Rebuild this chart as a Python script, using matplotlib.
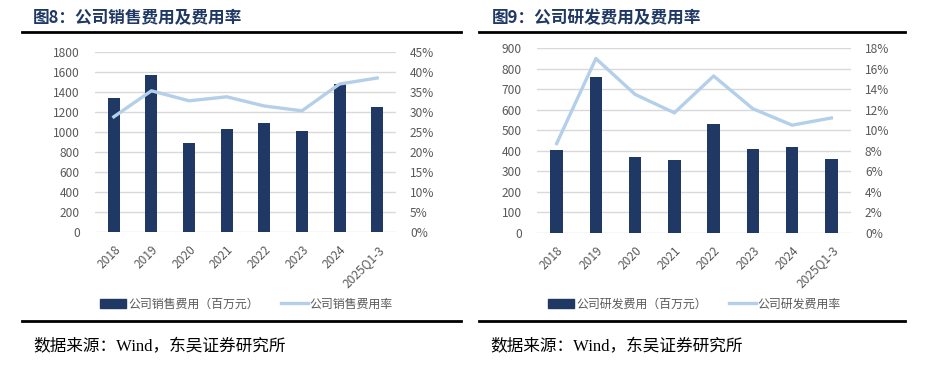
import numpy as np
import matplotlib
matplotlib.use('Agg')
import matplotlib.pyplot as plt
from matplotlib.lines import Line2D
from matplotlib.patches import Patch
import matplotlib.ticker as mticker

plt.rcParams['font.family'] = ['Noto Sans CJK SC', 'DejaVu Sans']
plt.rcParams['axes.unicode_minus'] = False

# 数据
years = ['2018', '2019', '2020', '2021', '2022', '2023', '2024', '2025Q1-3']
sales_exp = [1340, 1575, 895, 1035, 1090, 1015, 1478, 1255]
sales_rate = [28.8, 35.3, 32.8, 33.8, 31.5, 30.3, 37.0, 38.5]
rd_exp = [404, 758, 368, 353, 532, 407, 420, 360]
rd_rate = [8.7, 17.0, 13.5, 11.7, 15.3, 12.1, 10.5, 11.2]

BAR_C = '#1F3864'
LINE_C = '#B4CFEA'
TICK_C = '#595959'
GRID_C = '#D9D9D9'
TITLE_C = '#1F3864'

W, H = 936, 365
fig = plt.figure(figsize=(W / 100, H / 100), dpi=100)


def px_axes(x0, y0, x1, y1):
    return fig.add_axes([x0 / W, 1 - y1 / H, (x1 - x0) / W, (y1 - y0) / H])


def hline(x0, x1, y, lw=2.0):
    fig.add_artist(Line2D([x0 / W, x1 / W], [1 - y / H, 1 - y / H],
                          color='black', linewidth=lw, transform=fig.transFigure))


def draw_panel(box, vals, rates, ymax, ystep, rmax, rstep):
    ax = px_axes(*box)
    x = np.arange(len(years))
    ax.bar(x, vals, width=0.32, color=BAR_C, zorder=3)
    ax.set_xlim(-0.5, len(years) - 0.5)
    ax.set_ylim(0, ymax)
    ax.set_yticks(np.arange(0, ymax + 1, ystep))
    ax.grid(axis='y', color=GRID_C, linewidth=1.0, zorder=0)
    ax.set_axisbelow(True)
    for s in ax.spines.values():
        s.set_visible(False)
    ax.tick_params(axis='both', length=0, colors=TICK_C, labelsize=8.6)
    ax.tick_params(axis='y', pad=11)
    ax.set_xticks(x)
    ax.set_xticklabels(years, rotation=45, ha='right', rotation_mode='anchor')
    ax.tick_params(axis='x', pad=8)

    ax2 = ax.twinx()
    ax2.plot(x, rates, color=LINE_C, linewidth=2.4, zorder=4)
    ax2.set_ylim(0, rmax)
    ax2.set_yticks(np.arange(0, rmax + 0.01, rstep))
    ax2.yaxis.set_major_formatter(mticker.FuncFormatter(lambda v, p: f'{v:.0f}%'))
    for s in ax2.spines.values():
        s.set_visible(False)
    ax2.tick_params(axis='y', length=0, colors=TICK_C, labelsize=8.6, pad=10)
    return ax


# 左图：销售费用
draw_panel((95, 52, 396, 232), sales_exp, sales_rate, 1800, 200, 45, 5)
# 右图：研发费用
draw_panel((537, 48.3, 851, 232.7), rd_exp, rd_rate, 900, 100, 18, 2)

# 标题
fig.text(33 / W, 1 - 18 / H, '图8：公司销售费用及费用率', fontsize=12, fontweight='bold',
         color=TITLE_C, va='center', ha='left')
fig.text(492 / W, 1 - 18 / H, '图9：公司研发费用及费用率', fontsize=12, fontweight='bold',
         color=TITLE_C, va='center', ha='left')

hline(22, 461, 32)
hline(479, 905, 32)
hline(22, 461, 321)
hline(479, 905, 321)

# 图例
for lx, bar_label, line_label in [(100, '公司销售费用（百万元）', '公司销售费用率'),
                                  (548, '公司研发费用（百万元）', '公司研发费用率')]:
    handles = [Patch(facecolor=BAR_C, edgecolor=BAR_C, label=bar_label),
               Line2D([0], [0], color=LINE_C, linewidth=2.4, label=line_label)]
    fig.legend(handles=handles, loc='center left', bbox_to_anchor=(lx / W, 1 - 304 / H),
               ncol=2, frameon=False, fontsize=8.6, handlelength=2.2, handleheight=0.7,
               handletextpad=0.15, columnspacing=1.9, borderaxespad=0, borderpad=0,
               labelcolor=TICK_C)

# 数据来源
src = '数据来源：Wind，东吴证券研究所'
for sx in (33, 490):
    fig.text(sx / W, 1 - 347 / H, src, fontsize=12, color='black', va='center', ha='left',
             family=['Liberation Serif', 'Noto Sans CJK SC'])

fig.savefig('out.png', dpi=100)
